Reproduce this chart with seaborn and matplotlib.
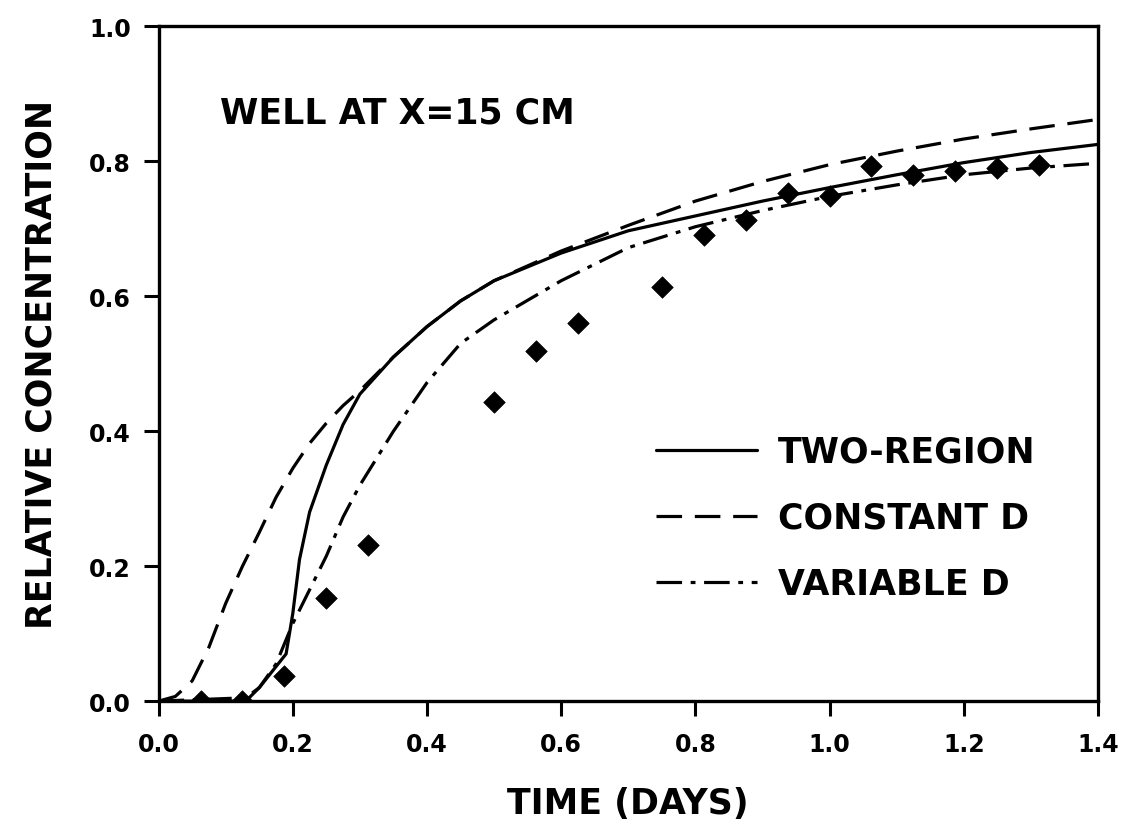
import matplotlib
matplotlib.use("Agg")
import matplotlib.pyplot as plt
import seaborn as sns

# Two-region model
two_region_t = [0.0, 0.13, 0.15, 0.17, 0.19, 0.20, 0.21, 0.225, 0.25, 0.275, 0.30,
                0.35, 0.40, 0.45, 0.50, 0.60, 0.70, 0.80, 0.90, 1.00, 1.10, 1.20,
                1.30, 1.40]
two_region_c = [0.0, 0.0, 0.02, 0.045, 0.07, 0.13, 0.21, 0.28, 0.35, 0.41, 0.455,
                0.51, 0.555, 0.593, 0.623, 0.664, 0.697, 0.719, 0.741, 0.761, 0.78,
                0.798, 0.813, 0.825]

# Constant dispersion coefficient
constant_t = [0.0, 0.025, 0.05, 0.075, 0.10, 0.125, 0.15, 0.175, 0.20, 0.225, 0.25,
              0.275, 0.30, 0.35, 0.40, 0.45, 0.50, 0.60, 0.70, 0.80, 0.90, 1.00,
              1.10, 1.20, 1.30, 1.40]
constant_c = [0.0, 0.007, 0.03, 0.08, 0.145, 0.20, 0.25, 0.302, 0.345, 0.382, 0.412,
              0.438, 0.46, 0.51, 0.555, 0.593, 0.623, 0.667, 0.705, 0.741, 0.77,
              0.795, 0.815, 0.833, 0.848, 0.862]

# Variable dispersion coefficient
variable_t = [0.0, 0.13, 0.15, 0.175, 0.20, 0.225, 0.25, 0.275, 0.30, 0.35, 0.40,
              0.45, 0.50, 0.60, 0.70, 0.80, 0.90, 1.00, 1.10, 1.20, 1.30, 1.40]
variable_c = [0.0, 0.005, 0.02, 0.055, 0.115, 0.165, 0.215, 0.273, 0.32, 0.40, 0.472,
              0.53, 0.565, 0.623, 0.672, 0.703, 0.727, 0.748, 0.765, 0.78, 0.79, 0.797]

# Observed concentrations
obs_t = [0.0625, 0.125, 0.1875, 0.25, 0.3125, 0.5, 0.5625, 0.625, 0.75, 0.8125,
         0.875, 0.9375, 1.0, 1.0625, 1.125, 1.1875, 1.25, 1.3125]
obs_c = [0.0, 0.0, 0.037, 0.153, 0.232, 0.443, 0.519, 0.560, 0.614, 0.691,
         0.713, 0.753, 0.748, 0.793, 0.780, 0.786, 0.790, 0.795]

x_ticks = [0.0, 0.2, 0.4, 0.6, 0.8, 1.0, 1.2, 1.4]
y_ticks = [0.0, 0.2, 0.4, 0.6, 0.8, 1.0]

sns.set_theme(style="ticks")
plt.rcParams["font.family"] = ["DejaVu Sans"]
plt.rcParams["font.weight"] = "bold"
plt.rcParams["text.color"] = "black"
plt.rcParams["axes.labelcolor"] = "black"
plt.rcParams["xtick.color"] = "black"
plt.rcParams["ytick.color"] = "black"

fig = plt.figure(figsize=(11.33, 8.28), dpi=100)
ax = fig.add_axes([0.140, 0.152, 0.829, 0.815])

lw = 2.3
sns.lineplot(x=two_region_t, y=two_region_c, ax=ax, color="black", lw=lw,
             label="TWO-REGION", sort=False)
sns.lineplot(x=constant_t, y=constant_c, ax=ax, color="black", lw=lw,
             linestyle=(0, (8, 4)), label="CONSTANT D", sort=False)
sns.lineplot(x=variable_t, y=variable_c, ax=ax, color="black", lw=lw,
             linestyle=(0, (8, 2.7, 1.5, 2.7)), label="VARIABLE D", sort=False)
sns.scatterplot(x=obs_t, y=obs_c, ax=ax, color="black", marker="D", s=120,
                edgecolor="black", linewidth=0.5, zorder=5)

ax.set_xlim(0, 1.4)
ax.set_ylim(0, 1.0)
ax.set_xticks(x_ticks)
ax.set_yticks(y_ticks)
ax.set_xticklabels([f"{v:.1f}" for v in x_ticks], fontsize=17, fontweight="bold")
ax.set_yticklabels([f"{v:.1f}" for v in y_ticks], fontsize=17, fontweight="bold")
ax.tick_params(axis="both", direction="out", length=11, width=2.2, color="black")
ax.tick_params(axis="x", pad=11)
ax.tick_params(axis="y", pad=9)
for side in ["top", "right", "bottom", "left"]:
    ax.spines[side].set_visible(True)
    ax.spines[side].set_linewidth(2.4)
    ax.spines[side].set_color("black")

ax.set_xlabel("TIME (DAYS)", fontsize=25, fontweight="bold", labelpad=22)
ax.set_ylabel("RELATIVE CONCENTRATION", fontsize=25, fontweight="bold", labelpad=22)

ax.text(0.065, 0.898, "WELL AT X=15 CM", transform=ax.transAxes, fontsize=25,
        fontweight="bold", va="top", ha="left")

leg = ax.legend(loc="upper left", bbox_to_anchor=(0.515, 0.415), frameon=False,
                fontsize=25, handlelength=2.9, handletextpad=0.6, labelspacing=0.92,
                borderaxespad=0)
for line in leg.get_lines():
    line.set_linewidth(lw)
for t in leg.get_texts():
    t.set_fontweight("bold")
    t.set_color("black")

fig.savefig("out.png", dpi=100, facecolor="white")
